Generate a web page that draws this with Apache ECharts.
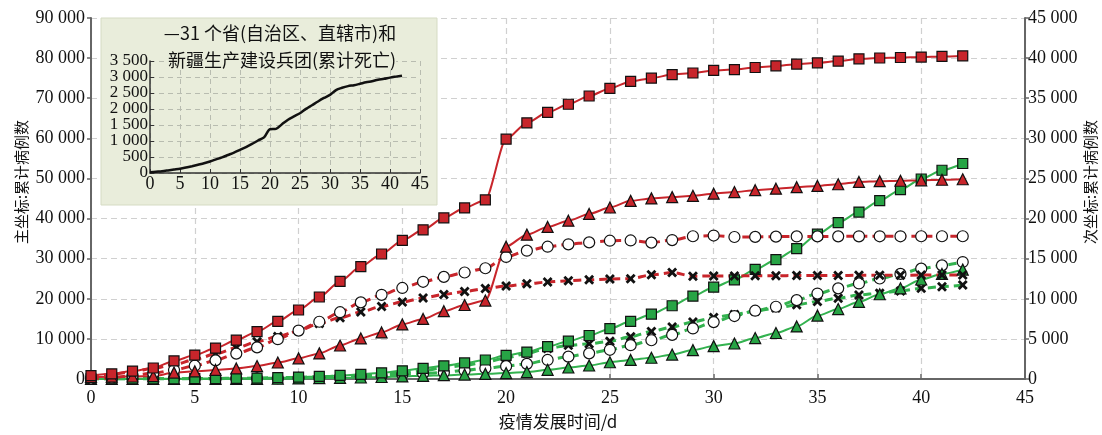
<!DOCTYPE html>
<html><head><meta charset="utf-8">
<script src="https://cdn.jsdelivr.net/npm/echarts@6/dist/echarts.min.js"></script>
<style>html,body{margin:0;padding:0;background:#fff}#c{width:1102px;height:435px}</style>
</head><body><div id="c"></div>
<script>
const days = Array.from({length: 43}, (_, i) => i);
// primary axis
const confirmedAll = [830,1287,1975,2744,4515,5974,7711,9692,11791,14380,17205,20438,24324,28018,31161,34546,37198,40171,42638,44653,59804,63851,66492,68500,70548,72436,74185,75002,75891,76288,76936,77150,77658,78064,78497,78824,79251,79824,80026,80151,80270,80409,80552];
const confirmedWuhan = [495,572,618,698,1590,1905,2261,2639,3215,4109,5142,6384,8351,10117,11618,13603,14982,16902,18454,19558,32994,35991,37914,39462,41152,42752,44412,45027,45346,45660,46201,46607,47071,47441,47824,48137,48557,49122,49315,49426,49540,49671,49797];
const curedAll = [34,38,49,51,60,103,124,171,243,328,475,632,892,1153,1540,2050,2649,3281,3996,4740,5911,6723,8096,9419,10844,12552,14376,16155,18264,20659,22888,24734,27323,29745,32495,36117,39002,41625,44462,47204,49856,52045,53726];
const curedWuhan = [10,12,15,18,20,25,30,35,45,60,150,200,280,380,500,650,800,950,1100,1280,1470,1720,2290,2870,3360,4180,4750,5300,6100,7200,8200,8850,10200,11470,13100,15800,17440,19240,21130,22600,24810,26200,27270];
// secondary axis
const confirmedHubeiExWuhan = [54,157,434,725,1124,1649,2325,3167,3938,4965,6035,7138,8327,9548,10494,11350,12118,12729,13274,13808,15212,15995,16492,16787,17030,17237,17270,17004,17316,17794,17883,17700,17715,17746,17772,17777,17780,17785,17788,17791,17792,17795,17795];
const confirmedOutsideHubei = [281,558,923,1321,1801,2420,3125,3886,4638,5306,6028,6916,7646,8353,9049,9593,10098,10540,10910,11287,11598,11865,12086,12251,12366,12470,12510,12980,13270,12810,12850,12850,12860,12880,12890,12900,12910,12920,12930,12940,12950,12955,12960];
const curedHubeiExWuhan = [10,12,15,20,25,32,42,55,75,100,135,180,240,320,420,560,700,820,1065,1350,1600,1885,2375,2785,3195,3640,4215,4830,5500,6300,7090,7850,8515,9005,9830,10650,11300,11915,12530,13100,13760,14165,14580];
const curedOutsideHubei = [15,20,25,30,40,52,68,90,120,160,210,280,370,490,640,820,1050,1400,1720,2100,2620,3195,3810,4200,4400,4700,5280,5920,6475,7120,7660,8050,8450,8845,9250,9670,10075,10480,10690,10970,11300,11505,11710];
// inset
const deaths = [25,41,56,80,106,132,170,213,259,304,361,425,490,563,636,722,811,908,1016,1113,1367,1380,1523,1665,1770,1868,2004,2118,2236,2345,2442,2592,2663,2715,2744,2788,2835,2870,2912,2943,2981,3012,3042];

const RED = '#c8252b', GREEN = '#33b24f', GFILL = '#27a445';
const SERIF = "'Liberation Serif','Noto Sans CJK SC',serif";
const CJK = "'Noto Sans CJK SC',sans-serif";
const xMark = 'path://M2,0 L5,3 L8,0 L10,2 L7,5 L10,8 L8,10 L5,7 L2,10 L0,8 L3,5 L0,2 Z';
const pairs = arr => arr.map((v, i) => [days[i], v]);
const fmt = v => { const s = String(v); return s.length > 3 ? s.slice(0, -3) + ' ' + s.slice(-3) : s; };

function mk(name, arr, axis, color, fill, symbol, size, dashed) {
  return {
    name, type: 'line', data: pairs(arr), yAxisIndex: axis, xAxisIndex: 0,
    symbol, symbolSize: size, smooth: 0.25, smoothMonotone: 'x',
    lineStyle: {color, width: dashed ? 3 : 2, type: dashed ? [8, 5] : 'solid'},
    itemStyle: {color: fill, borderColor: '#111', borderWidth: symbol === xMark ? 0 : 1.2, opacity: 1},
    emphasis: {disabled: true}, z: 3
  };
}

const chart = echarts.init(document.getElementById('c'));
chart.setOption({
  animation: false,
  backgroundColor: '#fff',
  grid: [
    {left: 91, right: 77, top: 18, bottom: 49},
    {left: 150, top: 61, width: 270, height: 112}
  ],
  graphic: [
    {type: 'rect', shape: {x: 101, y: 18, width: 336, height: 187}, style: {fill: '#e9eddb', stroke: '#d5dbc3', lineWidth: 1}, z: 1},
    {type: 'text', x: 280, y: 33, style: {text: '—31 个省(自治区、直辖市)和', fill: '#111', font: "18px 'Noto Sans CJK SC'", textAlign: 'center', textVerticalAlign: 'middle'}, z: 10},
    {type: 'text', x: 282, y: 60, style: {text: '新疆生产建设兵团(累计死亡)', fill: '#111', font: "18px 'Noto Sans CJK SC'", textAlign: 'center', textVerticalAlign: 'middle', backgroundColor: '#e9eddb'}, z: 10},
    {type: 'text', rotation: Math.PI / 2, x: 21, y: 182, style: {text: '主坐标:累计病例数', fill: '#111', font: "15px 'Noto Sans CJK SC'", textAlign: 'center', textVerticalAlign: 'middle'}},
    {type: 'text', rotation: Math.PI / 2, x: 1090, y: 182, style: {text: '次坐标:累计病例数', fill: '#111', font: "15px 'Noto Sans CJK SC'", textAlign: 'center', textVerticalAlign: 'middle'}}
  ],
  xAxis: [
    {type: 'value', gridIndex: 0, min: 0, max: 45, interval: 5,
     name: '疫情发展时间/d', nameLocation: 'middle', nameGap: 34,
     nameTextStyle: {fontFamily: CJK, fontSize: 17, color: '#111'},
     axisLine: {lineStyle: {color: '#666', width: 2}},
     axisTick: {inside: true, length: 5, lineStyle: {color: '#666', width: 1.5}},
     axisLabel: {fontFamily: SERIF, fontSize: 18, color: '#111', margin: 10},
     splitLine: {show: true, lineStyle: {color: '#d0d0d0', type: [6, 4], width: 1.2}}},
    {type: 'value', gridIndex: 1, min: 0, max: 45, interval: 5, z: 5,
     axisLine: {onZero: false, lineStyle: {color: '#333', width: 1.5}},
     axisTick: {inside: true, length: 4, lineStyle: {color: '#333'}},
     axisLabel: {fontFamily: SERIF, fontSize: 18, color: '#111', margin: 2, showMinLabel: true, showMaxLabel: true},
     splitLine: {show: true, lineStyle: {color: '#b8bcb0', type: [5, 4]}}}
  ],
  yAxis: [
    {type: 'value', gridIndex: 0, min: 0, max: 90000, interval: 10000, position: 'left',
     axisLine: {show: true, lineStyle: {color: '#666', width: 2}},
     axisTick: {show: true, length: 4, lineStyle: {color: '#666', width: 1.5}},
     axisLabel: {fontFamily: SERIF, fontSize: 18, color: '#111', margin: 6, formatter: fmt},
     splitLine: {show: true, lineStyle: {color: '#d0d0d0', type: [6, 4], width: 1.2}}},
    {type: 'value', gridIndex: 0, min: 0, max: 45000, interval: 5000, position: 'right',
     axisLine: {show: true, lineStyle: {color: '#666', width: 2}},
     axisTick: {show: true, length: 4, lineStyle: {color: '#666', width: 1.5}},
     axisLabel: {fontFamily: SERIF, fontSize: 18, color: '#111', margin: 3, formatter: fmt},
     splitLine: {show: false}},
    {type: 'value', gridIndex: 1, min: 0, max: 3500, interval: 500, z: 5,
     axisLine: {show: true, onZero: false, lineStyle: {color: '#333', width: 1.5}},
     axisTick: {show: true, length: 4, inside: true, lineStyle: {color: '#333'}},
     axisLabel: {fontFamily: SERIF, fontSize: 17, color: '#111', margin: 2, showMinLabel: true, showMaxLabel: true,
       formatter: v => (v % 1000 === 500 ? fmt(v) : '')},
     splitLine: {show: true, lineStyle: {color: '#b8bcb0', type: [5, 4]}}},
    {type: 'value', gridIndex: 1, min: 0, max: 3500, interval: 1000, z: 5, position: 'left',
     axisLine: {show: false, onZero: false}, axisTick: {show: false}, splitLine: {show: false},
     axisLabel: {fontFamily: SERIF, fontSize: 17, color: '#111', margin: 2, showMinLabel: true, showMaxLabel: false,
       formatter: v => (v % 1000 === 0 ? fmt(v) : '')}}
  ],
  series: [
    mk('cured outside', curedOutsideHubei, 1, GREEN, '#111', xMark, 10, true),
    mk('cured hubei ex', curedHubeiExWuhan, 1, GREEN, '#fff', 'circle', 11, true),
    mk('cured wuhan', curedWuhan, 0, GREEN, GFILL, 'triangle', 11, false),
    mk('cured all', curedAll, 0, GREEN, GFILL, 'rect', 10, false),
    mk('outside hubei', confirmedOutsideHubei, 1, RED, '#111', xMark, 10, true),
    mk('hubei ex', confirmedHubeiExWuhan, 1, RED, '#fff', 'circle', 11, true),
    mk('wuhan', confirmedWuhan, 0, RED, RED, 'triangle', 11, false),
    mk('all', confirmedAll, 0, RED, RED, 'rect', 10, false),
    {type: 'line', xAxisIndex: 1, yAxisIndex: 2, data: pairs(deaths), symbol: 'none', smooth: 0.3,
     lineStyle: {color: '#111', width: 2.5}, z: 6}
  ]
});
</script></body></html>
